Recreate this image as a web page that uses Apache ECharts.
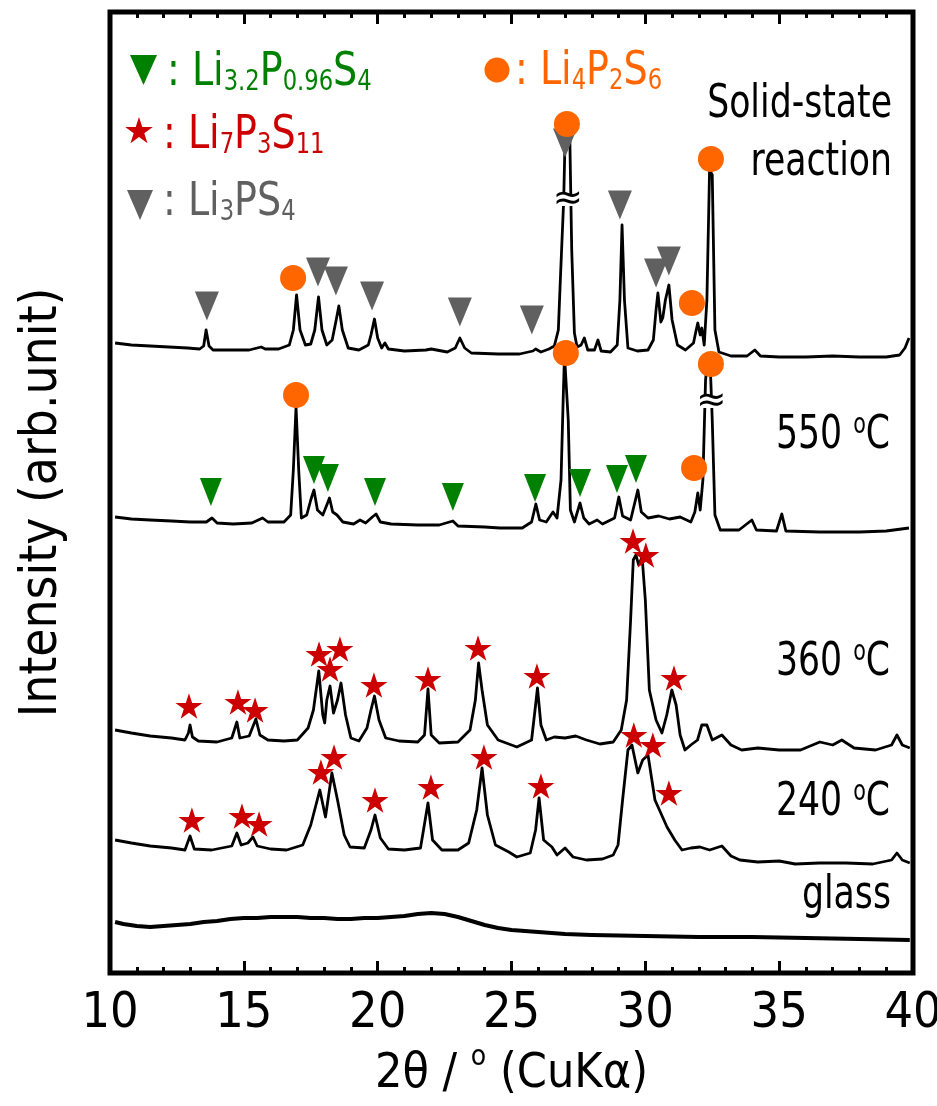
<!DOCTYPE html>
<html><head><meta charset="utf-8">
<script src="https://cdn.jsdelivr.net/npm/echarts@6/dist/echarts.min.js"></script>
<style>html,body{margin:0;padding:0;background:#fff}#c{width:937px;height:1106px}</style>
</head><body><div id="c"></div><script>
// ---- data: [2theta (deg), intensity (arb. units, stacked offsets)] ----
const solidState = [[10.19,630],[10.8,628],[11.5,627],[12.2,626],[12.9,625],[13.35,624],[13.5,627],[13.59,643],[13.7,627],[13.85,623],[14.5,623],[15.2,623],[15.65,626],[15.8,624],[16.3,624],[16.7,628],[16.85,643],[16.97,678],[17.1,643],[17.3,628],[17.5,629],[17.65,643],[17.79,676],[17.92,643],[18.1,628],[18.3,633],[18.45,653],[18.55,667],[18.68,643],[18.9,625],[19.3,623],[19.65,628],[19.75,638],[19.88,654],[20.0,635],[20.15,625],[20.27,630],[20.4,624],[21.0,622],[21.8,623],[22.0,624],[22.6,621],[22.9,625],[23.07,635],[23.25,625],[23.5,620],[24.5,619],[25.3,619],[25.8,622],[25.9,624],[26.1,621],[26.4,624],[26.6,627],[26.75,643],[26.82,690],[26.95,773],[27.0,833],[27.08,841],[27.18,833],[27.25,723],[27.35,640],[27.45,626],[27.6,628],[27.72,635],[27.85,623],[28.1,623],[28.23,633],[28.35,622],[28.7,621],[28.95,628],[29.05,673],[29.13,748],[29.22,673],[29.35,625],[29.7,622],[30.1,623],[30.3,633],[30.4,663],[30.47,680],[30.58,651],[30.65,655],[30.75,673],[30.88,688],[31.0,653],[31.2,628],[31.5,623],[31.8,630],[31.9,643],[31.96,650],[32.05,638],[32.11,645],[32.2,628],[32.3,673],[32.4,803],[32.5,798],[32.6,643],[32.75,621],[33.2,617],[33.8,617],[34.09,623],[34.3,617],[35.0,616],[36.0,616],[37.0,617],[38.0,616],[39.0,616],[39.5,618],[39.7,625],[39.85,635]];
const t550 = [[10.19,456],[10.8,454],[11.5,453],[12.3,452],[13.0,451],[13.6,451],[13.81,455],[14.0,450],[14.6,449],[15.3,450],[15.7,455],[15.9,451],[16.5,451],[16.75,458],[16.85,503],[16.95,566],[17.05,503],[17.15,455],[17.35,458],[17.5,473],[17.62,483],[17.75,463],[17.95,458],[18.1,468],[18.2,475],[18.32,461],[18.48,458],[18.7,451],[19.1,449],[19.34,453],[19.55,450],[19.8,456],[19.94,459],[20.1,451],[20.5,449],[21.5,448],[22.3,448],[22.81,452],[23.0,447],[24.0,446],[24.57,445],[25.4,445],[25.75,451],[25.91,469],[26.05,453],[26.3,451],[26.55,461],[26.7,455],[26.85,493],[26.93,573],[26.98,618],[27.05,618],[27.12,553],[27.2,463],[27.35,451],[27.56,470],[27.7,455],[27.9,449],[28.2,453],[28.4,449],[28.85,455],[29.01,476],[29.15,457],[29.45,453],[29.72,483],[29.85,461],[30.1,455],[30.5,457],[30.9,454],[31.3,456],[31.7,451],[31.85,461],[31.96,480],[32.05,463],[32.15,493],[32.25,593],[32.32,611],[32.42,611],[32.5,553],[32.6,458],[32.8,443],[33.5,443],[33.98,453],[34.15,443],[34.9,442],[35.1,459],[35.25,442],[36.5,441],[38.0,441],[39.0,442],[39.85,445]];
const t360 = [[10.19,243],[10.8,240],[11.5,237],[12.3,235],[12.8,233],[12.93,240],[12.99,248],[13.08,236],[13.3,232],[14.0,231],[14.55,235],[14.74,251],[14.85,235],[15.2,237],[15.45,254],[15.6,238],[15.9,233],[16.5,232],[17.0,233],[17.4,245],[17.6,263],[17.8,302],[17.95,258],[18.02,250],[18.1,273],[18.22,287],[18.35,260],[18.5,273],[18.63,290],[18.8,258],[19.0,235],[19.3,232],[19.6,245],[19.75,263],[19.88,277],[20.05,253],[20.3,235],[20.8,232],[21.5,231],[21.75,238],[21.88,284],[22.0,238],[22.3,230],[23.0,231],[23.45,243],[23.65,273],[23.77,310],[23.9,283],[24.1,248],[24.5,233],[25.2,226],[25.75,233],[25.9,268],[25.97,285],[26.1,248],[26.3,233],[26.6,236],[27.0,235],[27.4,237],[27.8,233],[28.3,229],[28.8,231],[29.1,243],[29.3,273],[29.45,353],[29.55,413],[29.65,418],[29.75,408],[29.88,416],[30.0,373],[30.15,283],[30.4,253],[30.62,240],[30.8,258],[30.99,283],[31.15,268],[31.3,238],[31.48,223],[31.7,228],[31.95,233],[32.11,248],[32.3,248],[32.5,233],[32.86,238],[33.2,228],[33.6,223],[34.2,225],[35.0,223],[35.8,223],[36.52,231],[37.0,228],[37.34,233],[37.8,225],[38.6,223],[39.2,228],[39.4,238],[39.6,228],[39.88,225]];
const t240 = [[10.19,133],[10.8,130],[11.5,127],[12.3,125],[12.8,123],[12.99,137],[13.15,124],[13.8,123],[14.55,127],[14.74,140],[14.9,128],[15.15,130],[15.34,136],[15.5,127],[16.0,124],[16.6,123],[17.2,128],[17.5,148],[17.84,183],[18.05,156],[18.29,200],[18.5,173],[18.75,138],[18.97,126],[19.5,125],[19.75,143],[19.9,158],[20.1,135],[20.4,124],[21.0,123],[21.6,125],[21.88,170],[22.05,133],[22.4,123],[23.0,123],[23.4,130],[23.7,163],[23.9,205],[24.1,158],[24.4,128],[24.9,121],[25.2,116],[25.7,120],[25.9,143],[26.03,175],[26.2,133],[26.51,126],[26.7,118],[27.0,125],[27.3,116],[27.8,113],[28.4,114],[28.8,118],[28.98,128],[29.15,173],[29.35,223],[29.5,228],[29.72,200],[29.9,213],[30.1,218],[30.36,173],[30.81,146],[31.1,133],[31.37,123],[31.7,125],[32.04,126],[32.4,123],[32.86,127],[33.2,117],[33.53,113],[34.2,111],[35.0,112],[35.6,109],[36.5,110],[37.5,110],[38.5,109],[39.2,113],[39.4,120],[39.6,113],[39.88,110]];
const glass = [[10.19,51],[10.5,49],[11.0,47],[11.5,46],[12.0,47],[12.5,48],[13.0,49],[13.5,51],[14.0,52],[14.5,54],[15.0,55],[15.5,55],[16.0,56],[16.5,56],[17.0,56],[17.5,55],[18.0,55],[18.5,54],[19.0,54],[19.5,55],[20.0,55],[20.5,56],[21.0,57],[21.5,59],[22.0,60],[22.5,59],[23.0,56],[23.5,52],[24.0,48],[24.5,45],[25.0,43],[26.0,41],[27.0,39],[28.0,38],[30.0,37],[32.0,36],[34.0,36],[36.0,35],[38.0,34],[39.88,33]];

// peak markers [2theta, intensity]
const li32Marks = [[13.77,481],[17.62,503],[18.14,495],[19.90,481],[22.81,476],[25.88,485],[27.56,490],[28.94,494],[29.65,504]];
const li7Marks = [[12.95,267],[14.78,271],[15.42,263],[17.81,319],[18.59,324],[18.22,304],[19.86,288],[21.88,294],[23.75,325],[25.95,297],[29.54,432],[30.02,418],[31.07,295],
                  [13.06,153],[14.93,157],[15.57,149],[17.88,201],[18.37,216],[19.90,173],[21.99,186],[23.97,216],[26.10,187],[29.57,238],[30.28,228],[30.88,180]];
const li3Marks = [[13.62,667],[17.77,701],[18.44,692],[19.79,677],[23.07,661],[25.76,653],[27.00,830],[29.05,768],[30.40,700],[30.88,712]];
const li4Marks = [[16.84,695],[27.07,849],[31.74,670],[32.45,814],[16.95,578],[27.03,620],[31.82,505],[32.45,609]];
const breakMarks = [[27.10,773],[32.47,571]];

const xMin = 10, xMax = 40, xStep = 5;
const traceLabels = ['Solid-state', 'reaction', '550 ', '360 ', '240 ', 'glass'];

const FONT = '"DejaVu Sans Condensed","DejaVu Sans",sans-serif';
const SQ = 0.82; // horizontal squeeze of annotation text to mimic the condensed face
const TRI = 'path://M0,0L20,0L10,24Z';
const STAR = 'path://M100,0L122.45,69.1L195.1,69.1L136.3,111.8L158.8,180.9L100,138.2L41.2,180.9L63.7,111.8L4.9,69.1L77.55,69.1Z';
const GREEN = '#008000', RED = '#cc0000', GREY = '#606060', ORANGE = '#ff6600';

function richFor(c) {
  return {
    m: {fontSize: 47, fontFamily: FONT, fill: c, lineHeight: 48},
    s: {fontSize: 28, fontFamily: FONT, fill: c, lineHeight: 10, verticalAlign: 'bottom'}
  };
}
function legendLabel(text, x, y, c) {
  return {type: 'text', x, y, scaleX: 0.9, z: 10, silent: true,
    style: {text, rich: richFor(c), fill: c, align: 'left', verticalAlign: 'middle', font: '47px ' + FONT}};
}

const tempRich = {
  a: {fontSize: 47, fontFamily: FONT, fill: '#000', lineHeight: 48},
  o: {fontSize: 28, fontFamily: FONT, fill: '#000', lineHeight: 38, verticalAlign: 'top'}
};
function label(text, x, y) {
  return {type: 'text', x, y, z: 10, scaleX: SQ, silent: true,
    style: {text, rich: tempRich, fill: '#000', align: 'right', verticalAlign: 'middle', font: '47px ' + FONT}};
}

const chart = echarts.init(document.getElementById('c'), null, {renderer: 'canvas'});
const tickCommon = {
  axisLine: {show: false},
  axisTick: {show: true, inside: true, length: 12, lineStyle: {color: '#000', width: 3}},
  minorTick: {show: true, splitNumber: 5, length: 6, lineStyle: {color: '#000', width: 3}},
  splitLine: {show: false}, minorSplitLine: {show: false}
};
function line(name, data, w) {
  return {type: 'line', name, data, symbol: 'none', showSymbol: false, silent: true, z: 2,
    lineStyle: {color: '#000', width: w, join: 'round'}};
}
chart.setOption({
  animation: false,
  backgroundColor: '#fff',
  grid: {left: 110, right: 24, top: 12, bottom: 133, outerBoundsMode: 'none', containLabel: false,
    show: true, borderColor: '#000', borderWidth: 5},
  xAxis: [
    Object.assign({type: 'value', min: xMin, max: xMax, interval: xStep, position: 'bottom',
      axisLabel: {fontSize: 50, color: '#000', fontFamily: FONT, margin: 16},
      name: '{a|2θ / }{o|o}{a| (CuKα)}', nameLocation: 'middle', nameGap: 68,
      nameTextStyle: {rich: {
        a: {fontSize: 48, fontFamily: FONT, color: '#000', lineHeight: 62},
        o: {fontSize: 28, fontFamily: FONT, color: '#000', lineHeight: 20, verticalAlign: 'top'}}}
    }, tickCommon),
    Object.assign({type: 'value', min: xMin, max: xMax, interval: xStep, position: 'top', axisLabel: {show: false}}, tickCommon)
  ],
  yAxis: [{type: 'value', min: 0, max: 961, axisLine: {show: false}, axisTick: {show: false}, axisLabel: {show: false},
    splitLine: {show: false}, name: 'Intensity (arb.unit)', nameLocation: 'middle', nameGap: 42,
    nameTextStyle: {fontSize: 51, fontFamily: FONT, color: '#000', padding: [0, 20, 0, 0]}}],
  series: [
    line('Solid-state reaction', solidState, 2.8),
    line('550 °C', t550, 2.8),
    line('360 °C', t360, 2.8),
    line('240 °C', t240, 2.8),
    line('glass', glass, 4),
    {type: 'scatter', name: 'breaks', data: breakMarks, symbol: 'rect', symbolSize: [26, 12], z: 6, silent: true,
      itemStyle: {color: '#fff', opacity: 1}, label: {show: true, position: 'inside', formatter: '≈', fontSize: 36, color: '#000', fontFamily: 'DejaVu Sans'}},
    {type: 'scatter', name: 'Li3PS4', data: li3Marks, symbol: TRI, symbolSize: [24, 29], itemStyle: {color: GREY, opacity: 1}, z: 4},
    {type: 'scatter', name: 'Li3.2P0.96S4', data: li32Marks, symbol: TRI, symbolSize: [22, 28], itemStyle: {color: GREEN, opacity: 1}, z: 4},
    {type: 'scatter', name: 'Li7P3S11', data: li7Marks, symbol: STAR, symbolSize: 27, symbolKeepAspect: true, itemStyle: {color: RED, opacity: 1}, z: 4},
    {type: 'scatter', name: 'Li4P2S6', data: li4Marks, symbol: 'circle', symbolSize: 26, itemStyle: {color: ORANGE, opacity: 1}, z: 7}
  ],
  graphic: [
    // key at top-left
    {type: 'polygon', silent: true, z: 10, shape: {points: [[130, 55], [157, 55], [143.5, 85]]}, style: {fill: GREEN}},
    legendLabel('{m|: Li}{s|3.2}{m|P}{s|0.96}{m|S}{s|4}', 167, 73, GREEN),
    {type: 'polygon', silent: true, z: 10, shape: {points: [[139, 117], [142.3, 127], [152.8, 127], [144.3, 133.2], [147.5, 143.2], [139, 137], [130.5, 143.2], [133.7, 133.2], [125.2, 127], [135.7, 127]]}, style: {fill: RED}},
    legendLabel('{m|: Li}{s|7}{m|P}{s|3}{m|S}{s|11}', 163, 136, RED),
    {type: 'polygon', silent: true, z: 10, shape: {points: [[127, 190], [153, 190], [140, 220]]}, style: {fill: GREY}},
    legendLabel('{m|: Li}{s|3}{m|PS}{s|4}', 163, 203, GREY),
    {type: 'circle', silent: true, z: 10, shape: {cx: 497, cy: 70, r: 12.5}, style: {fill: ORANGE}},
    legendLabel('{m|: Li}{s|4}{m|P}{s|2}{m|S}{s|6}', 515, 72, ORANGE),
    // trace annotations
    label('{a|' + traceLabels[0] + '}', 892, 105),
    label('{a|' + traceLabels[1] + '}', 892, 163),
    label('{a|' + traceLabels[2] + '}{o|o}{a|C}', 890, 436),
    label('{a|' + traceLabels[3] + '}{o|o}{a|C}', 890, 663),
    label('{a|' + traceLabels[4] + '}{o|o}{a|C}', 890, 803),
    label('{a|' + traceLabels[5] + '}', 891, 896)
  ]
});
</script></body></html>
